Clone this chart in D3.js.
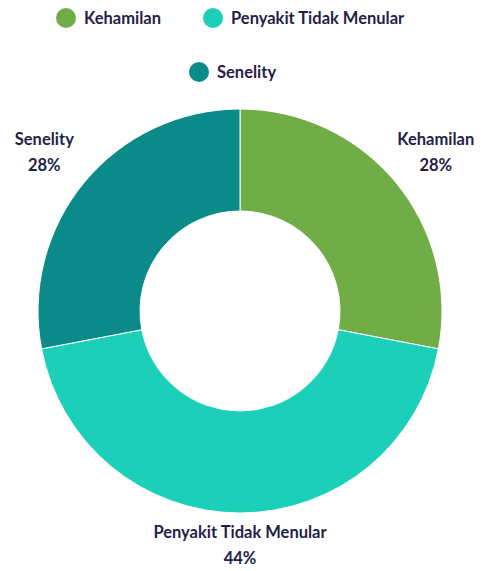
<!DOCTYPE html>
<html>
<head>
<meta charset="utf-8">
<script src="https://cdn.jsdelivr.net/npm/d3@7"></script>
<style>
  body { margin: 0; background: #fff; }
  text { font-family: Lato, "Noto Sans", sans-serif; font-weight: bold; fill: #251e47; }
</style>
</head>
<body>
<svg></svg>
<script>
let width = 492, height = 571;

// data
let categories = ["Kehamilan", "Penyakit Tidak Menular", "Senelity"];
let values = [28, 44, 28];
let colors = ["#70ad47", "#1bcfb9", "#0b8a8a"];

let svg = d3.select("svg")
    .attr("width", width)
    .attr("height", height);

let cx = 240, cy = 311, outerR = 202, innerR = 100;

let color = d3.scaleOrdinal().domain(categories).range(colors);

let pie = d3.pie().sort(null).value(d => d.value);
let slices = pie(categories.map((c, i) => ({name: c, value: values[i]})));

let arc = d3.arc().innerRadius(innerR).outerRadius(outerR);

let g = svg.append("g").attr("transform", `translate(${cx},${cy})`);

g.selectAll("path")
    .data(slices)
    .enter()
    .append("path")
    .attr("d", arc)
    .attr("fill", d => color(d.data.name))
    .attr("stroke", "#fff")
    .attr("stroke-width", 1);

// labels outside the ring
let labels = g.selectAll("g.lbl")
    .data(slices)
    .enter()
    .append("g")
    .attr("class", "lbl")
    .attr("transform", d => {
      let a = (d.startAngle + d.endAngle) / 2;
      let x = Math.sin(a) * 254, y = -Math.cos(a) * 240;
      return `translate(${x},${y})`;
    });

labels.append("text")
    .attr("text-anchor", "middle")
    .attr("y", -13)
    .style("font-size", "16.5px")
    .text(d => d.data.name);

labels.append("text")
    .attr("text-anchor", "middle")
    .attr("y", 13)
    .style("font-size", "16.5px")
    .text(d => d.data.value + "%");

// legend
let legendPos = [[66, 18], [213, 18], [199, 72]];
let legend = svg.selectAll("g.legend")
    .data(categories)
    .enter()
    .append("g")
    .attr("class", "legend")
    .attr("transform", (d, i) => `translate(${legendPos[i][0]},${legendPos[i][1]})`);

legend.append("circle")
    .attr("r", 10)
    .attr("fill", d => color(d));

legend.append("text")
    .attr("x", 18)
    .attr("y", 6)
    .style("font-size", "16.5px")
    .text(d => d);
</script>
</body>
</html>
